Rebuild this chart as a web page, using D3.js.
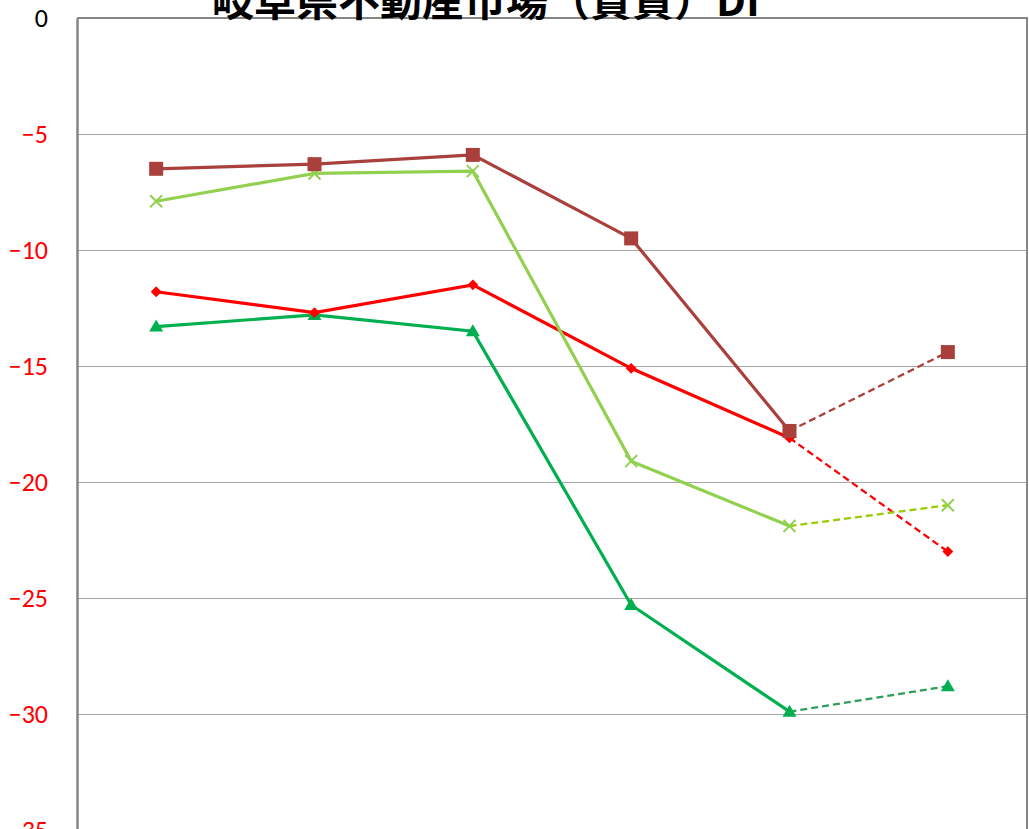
<!DOCTYPE html>
<html lang="ja">
<head>
<meta charset="utf-8">
<script src="https://d3js.org/d3.v7.min.js"></script>
<style>
    body { margin: 0; background: #fff; }
    .gridlines line { stroke: #a6a6a6; stroke-width: 1; }
    .gridlines .domain { stroke: none; }
</style>
</head>
<body>
<svg id="chart" width="1029" height="829"></svg>
<script>
    // data
    const periods = ["p1", "p2", "p3", "p4", "p5", "p6"];
    const brownSquare = [-6.5, -6.3, -5.9, -9.5, -17.8, -14.4];
    const lightGreenX = [-7.9, -6.7, -6.6, -19.1, -21.9, -21.0];
    const redDiamond = [-11.8, -12.7, -11.5, -15.1, -18.1, -23.0];
    const greenTriangle = [-13.3, -12.8, -13.5, -25.3, -29.9, -28.8];
    const yTicks = [0, -5, -10, -15, -20, -25, -30, -35];
    const title = "岐阜県不動産市場（賃貸）DI";

    const series = [
        { values: greenTriangle, color: "#00b050", dash: "#2e9e5e", marker: "triangle" },
        { values: redDiamond, color: "#ff0000", dash: "#ff0000", marker: "diamond" },
        { values: lightGreenX, color: "#92d050", dash: "#99cc00", marker: "x" },
        { values: brownSquare, color: "#a9403c", dash: "#a9403c", marker: "square" }
    ];

    const svg = d3.select("#chart");
    const plot = { left: 77, right: 1027, top: 18, bottom: 830 };

    const x = d3.scalePoint()
        .domain(periods)
        .range([plot.left, plot.right])
        .padding(0.5);

    const y = d3.scaleLinear()
        .domain([0, -35])
        .range([plot.top, plot.bottom]);

    // gridlines
    svg.append("g")
        .attr("class", "gridlines")
        .attr("transform", `translate(${plot.left},0)`)
        .call(d3.axisLeft(y).tickValues(yTicks).tickSize(-(plot.right - plot.left)).tickFormat(""));

    // frame top + right
    svg.append("path")
        .attr("d", `M${plot.left},${plot.top}H${plot.right}V${plot.bottom}`)
        .attr("fill", "none")
        .attr("stroke", "#868686")
        .attr("stroke-width", 2);

    // y axis
    const yAxis = svg.append("g")
        .attr("transform", `translate(${plot.left},0)`)
        .call(d3.axisLeft(y).tickValues(yTicks).tickSize(0).tickPadding(29));
    yAxis.select(".domain").attr("stroke", "#868686").attr("stroke-width", 2.5);
    yAxis.selectAll("text")
        .attr("font-family", "Carlito, 'Open Sans', 'Noto Sans', sans-serif")
        .attr("font-size", 26)
        .attr("fill", d => d < 0 ? "#ff0000" : "#000");

    // title (mostly cropped at the top)
    svg.append("text")
        .attr("x", 486)
        .attr("y", 16)
        .attr("text-anchor", "middle")
        .attr("font-family", "'Noto Sans CJK JP', sans-serif")
        .attr("font-weight", "bold")
        .attr("font-size", 42)
        .attr("fill", "#000")
        .text(title);

    series.forEach(s => {
        const pts = s.values.map((v, i) => [x(periods[i]), y(v)]);
        const last = pts.length - 1;

        svg.append("path")
            .attr("d", d3.line()(pts.slice(0, last)))
            .attr("fill", "none")
            .attr("stroke", s.color)
            .attr("stroke-width", 3.2);

        svg.append("path")
            .attr("d", d3.line()(pts.slice(last - 1)))
            .attr("fill", "none")
            .attr("stroke", s.dash)
            .attr("stroke-width", 2.3)
            .attr("stroke-dasharray", "7,4");

        const g = svg.append("g");
        pts.forEach(p => {
            if (s.marker === "square") {
                g.append("rect")
                    .attr("x", p[0] - 7).attr("y", p[1] - 7)
                    .attr("width", 14).attr("height", 14)
                    .attr("fill", s.color);
            } else if (s.marker === "x") {
                g.append("path")
                    .attr("d", `M${p[0] - 6},${p[1] - 6}L${p[0] + 6},${p[1] + 6}M${p[0] - 6},${p[1] + 6}L${p[0] + 6},${p[1] - 6}`)
                    .attr("stroke", s.color)
                    .attr("stroke-width", 2);
            } else if (s.marker === "diamond") {
                g.append("path")
                    .attr("d", d3.symbol(d3.symbolDiamond2, 75)())
                    .attr("transform", `translate(${p[0]},${p[1]})`)
                    .attr("fill", s.color);
            } else {
                g.append("path")
                    .attr("d", `M${p[0]},${p[1] - 7}L${p[0] + 7},${p[1] + 5}L${p[0] - 7},${p[1] + 5}Z`)
                    .attr("fill", s.color);
            }
        });
    });
</script>
</body>
</html>
